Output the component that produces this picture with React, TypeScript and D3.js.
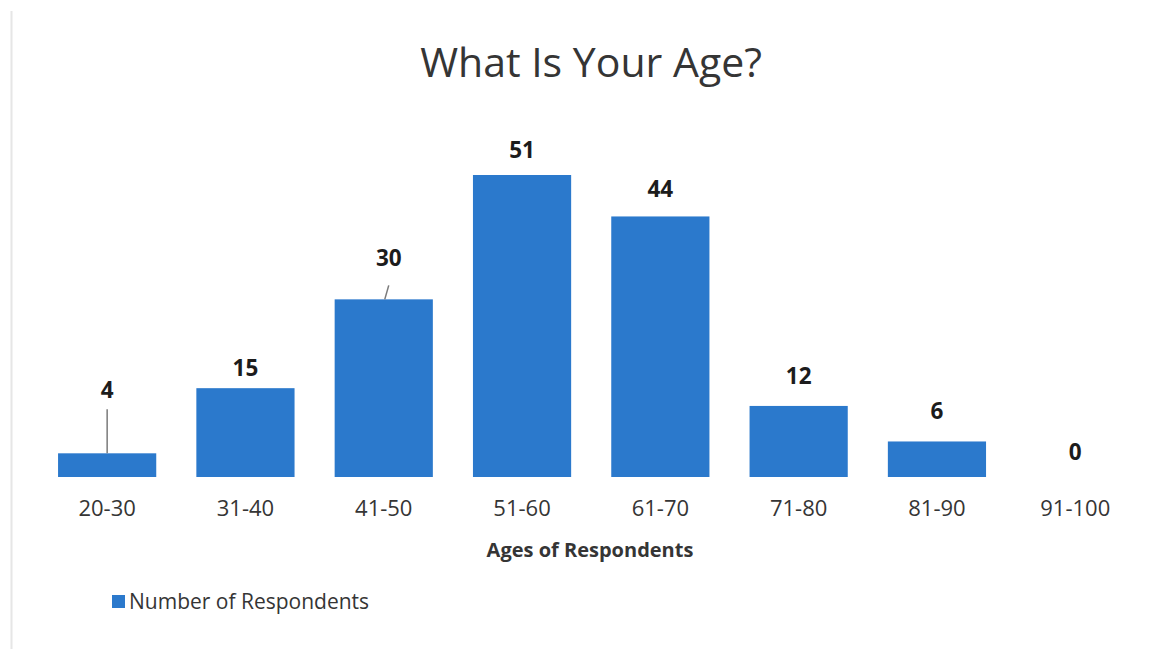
import React from "react";
import * as d3 from "d3";

const categories = ["20-30", "31-40", "41-50", "51-60", "61-70", "71-80", "81-90", "91-100"];
const respondents = [4, 15, 30, 51, 44, 12, 6, 0];
const title = "What Is Your Age?";
const xAxisTitle = "Ages of Respondents";
const seriesName = "Number of Respondents";

// label layout (distance of label baseline above the bar top, horizontal nudge)
const labelGap = [55, 12, 33, 17, 19, 22, 22, 17];
const labelDx = [0, 0, 5, 0, 0, 0, 0, 0];
// leader lines: index, gap below label baseline, horizontal tilt at the top
const leaders = [
  { i: 0, below: 11, tilt: 0 },
  { i: 2, below: 19, tilt: 4 },
];

const W = 1170;
const H = 649;
const BAR = "#2b79cc";
const TEXT = "#353535";
const FONT = "'Open Sans', 'Noto Sans', sans-serif";

export default function App() {
  const x = d3
    .scaleBand<string>()
    .domain(categories)
    .range([38, 1144.4])
    .paddingInner(0.29)
    .paddingOuter(0.145);
  const y = d3.scaleLinear().domain([0, 51]).range([477, 175]);

  return (
    <svg
      width={W}
      height={H}
      style={{ position: "absolute", left: 0, top: 0, background: "#fff" }}
      fontFamily={FONT}
    >
      <rect x={0} y={0} width={W} height={H} fill="#ffffff" />
      <line x1={11.5} y1={11} x2={11.5} y2={H} stroke="#e6e6e6" strokeWidth={2} />

      <text x={591} y={77} textAnchor="middle" fontSize={41} fill={TEXT}>
        {title}
      </text>

      {categories.map((c, i) => {
        const x0 = x(c)!;
        const bw = x.bandwidth();
        const v = respondents[i];
        const top = y(v);
        const cx = x0 + bw / 2;
        return (
          <g key={c}>
            {v > 0 && (
              <rect x={x0} y={top} width={bw} height={y(0) - top} fill={BAR} />
            )}
            <text
              x={cx + labelDx[i]}
              y={top - labelGap[i]}
              textAnchor="middle"
              fontSize={22.5}
              fontWeight={700}
              fill="#1c1c1c"
            >
              {v}
            </text>
            <text x={cx} y={516} textAnchor="middle" fontSize={22} fill={TEXT}>
              {c}
            </text>
          </g>
        );
      })}

      {leaders.map((l) => {
        const c = categories[l.i];
        const cx = x(c)! + x.bandwidth() / 2 + labelDx[l.i];
        const top = y(respondents[l.i]);
        const base = top - labelGap[l.i];
        return (
          <line
            key={c}
            x1={cx}
            y1={base + l.below}
            x2={cx - l.tilt}
            y2={top}
            stroke="#7a7a7a"
            strokeWidth={1.5}
          />
        );
      })}

      <text x={590} y={557} textAnchor="middle" fontSize={20} fontWeight={700} fill={TEXT}>
        {xAxisTitle}
      </text>

      <rect x={112} y={595} width={13} height={13} fill={BAR} />
      <text x={129} y={609} fontSize={21} fill={TEXT}>
        {seriesName}
      </text>
    </svg>
  );
}
